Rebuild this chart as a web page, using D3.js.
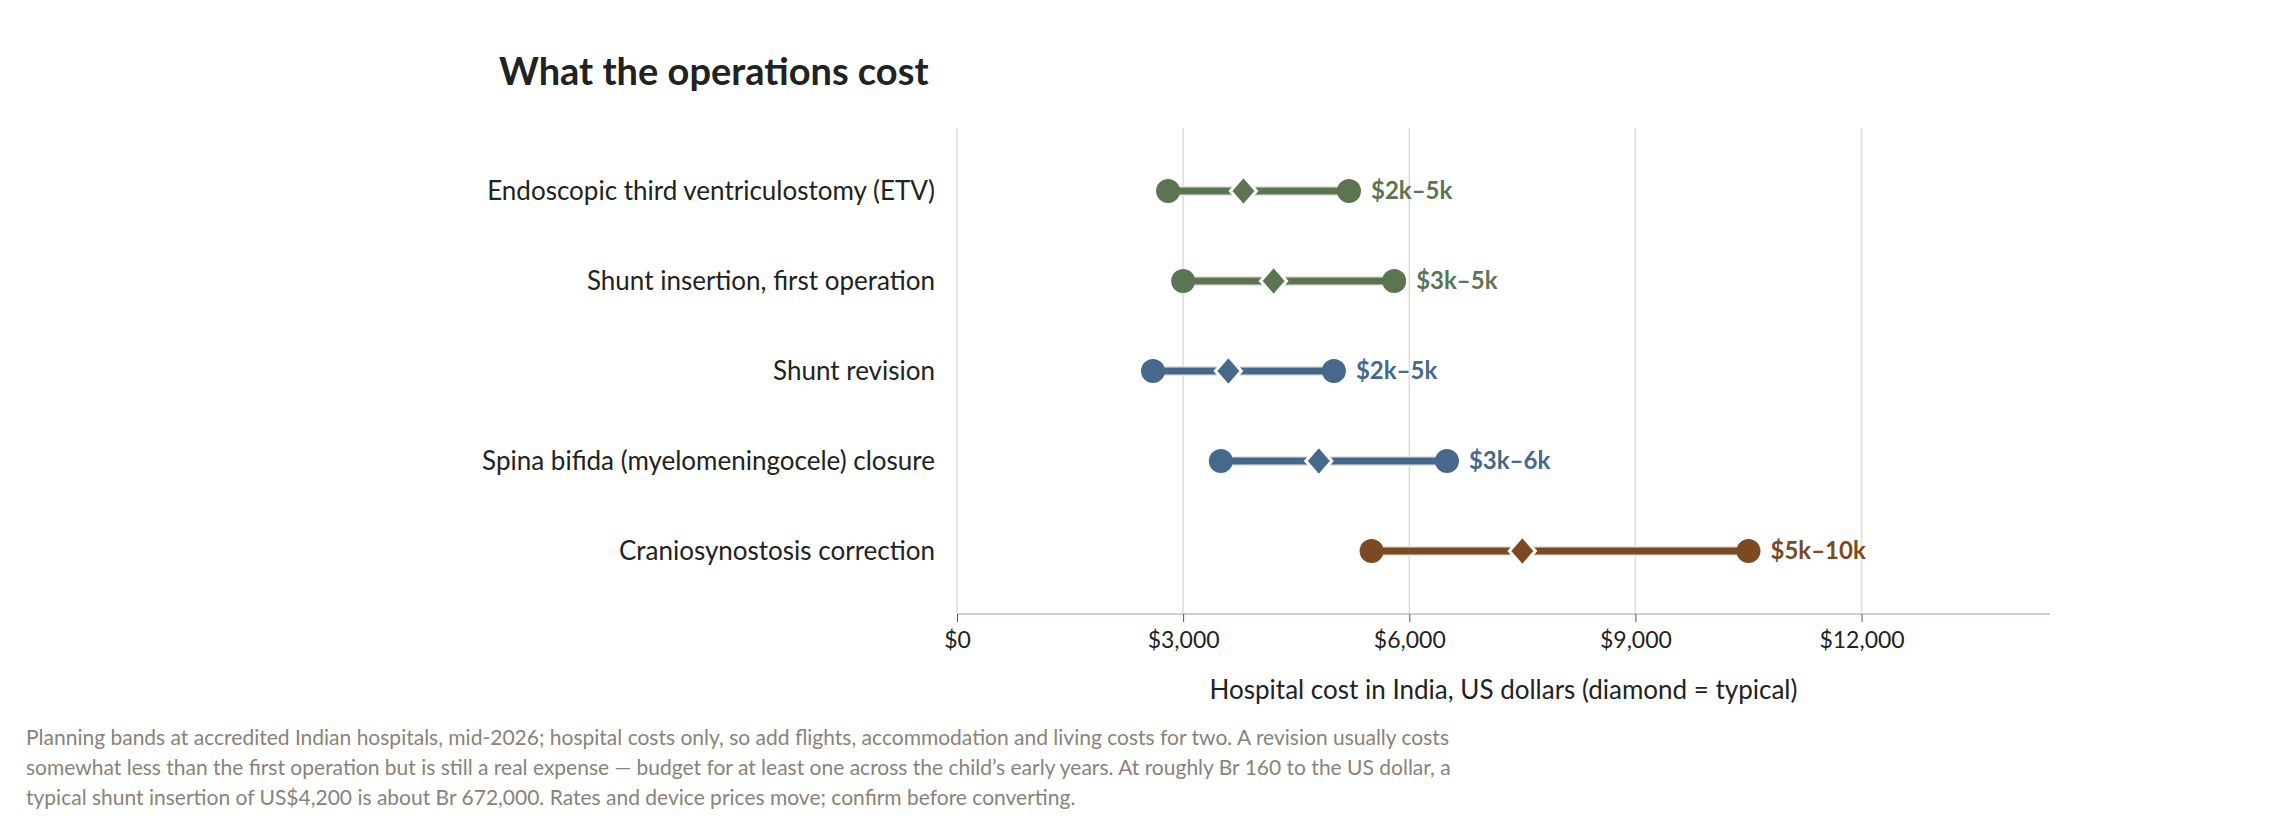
<!DOCTYPE html>
<html><head><meta charset="utf-8">
<script src="https://cdn.jsdelivr.net/npm/d3@7"></script>
<style>body{margin:0;background:#fff;font-family:Lato,sans-serif}</style>
</head><body>
<script>
// data
var categories = ["Endoscopic third ventriculostomy (ETV)", "Shunt insertion, first operation", "Shunt revision", "Spina bifida (myelomeningocele) closure", "Craniosynostosis correction"];
var lows = [2800, 3000, 2600, 3500, 5500];
var typicals = [3800, 4200, 3600, 4800, 7500];
var highs = [5200, 5800, 5000, 6500, 10500];
var rangeLabels = ["$2k–5k", "$3k–5k", "$2k–5k", "$3k–6k", "$5k–10k"];
var colors = ["#5b7553", "#5b7553", "#46688c", "#46688c", "#7b4a22"];
var tickValues = [0, 3000, 6000, 9000, 12000];

var W = 2280, H = 840;
var plotLeft = 957, plotRight = 2050, plotTop = 128, plotBottom = 614;

var svg = d3.select("body").append("svg").attr("width", W).attr("height", H);

var x = d3.scaleLinear().domain([0, 14500]).range([plotLeft, plotRight]);
var y = d3.scalePoint().domain(categories).range([plotTop, plotBottom]).padding(0.7);

// gridlines
svg.selectAll("line.grid").data(tickValues).enter().append("line")
    .attr("x1", function (d) { return x(d); }).attr("x2", function (d) { return x(d); })
    .attr("y1", plotTop).attr("y2", plotBottom)
    .attr("stroke", "#e0ddd5").attr("stroke-width", 1.5);

// x axis
var ax = svg.append("g").attr("transform", "translate(0," + plotBottom + ")")
    .call(d3.axisBottom(x).tickValues(tickValues).tickSize(8).tickPadding(10)
        .tickFormat(function (d) { return "$" + d3.format(",")(d); }));
ax.select(".domain").attr("stroke", "#d3cec4").attr("stroke-width", 2).attr("d", "M" + plotLeft + ",0H" + plotRight);
ax.selectAll(".tick line").attr("stroke", "#555");
ax.selectAll("text").attr("font-family", "Lato").attr("font-size", 23).attr("fill", "#222");

svg.append("text").attr("x", (plotLeft + plotRight) / 2).attr("y", 699).attr("text-anchor", "middle")
    .attr("font-size", 26).attr("fill", "#222").text("Hospital cost in India, US dollars (diamond = typical)");

// category labels
svg.selectAll("text.cat").data(categories).enter().append("text")
    .attr("x", 935).attr("y", function (d) { return y(d); }).attr("dy", "0.35em")
    .attr("text-anchor", "end").attr("font-size", 26).attr("fill", "#222")
    .text(function (d) { return d; });

var rows = categories.map(function (c, i) { return i; });

// range lines
svg.selectAll("line.halo").data(rows).enter().append("line")
    .attr("x1", function (i) { return x(lows[i]); }).attr("x2", function (i) { return x(highs[i]); })
    .attr("y1", function (i) { return y(categories[i]); }).attr("y2", function (i) { return y(categories[i]); })
    .attr("stroke", "#e8e4dc").attr("stroke-width", 10);
svg.selectAll("line.rng").data(rows).enter().append("line")
    .attr("x1", function (i) { return x(lows[i]); }).attr("x2", function (i) { return x(highs[i]); })
    .attr("y1", function (i) { return y(categories[i]); }).attr("y2", function (i) { return y(categories[i]); })
    .attr("stroke", function (i) { return colors[i]; }).attr("stroke-width", 7);

// end dots
[lows, highs].forEach(function (arr) {
    svg.selectAll(null).data(rows).enter().append("circle")
        .attr("cx", function (i) { return x(arr[i]); })
        .attr("cy", function (i) { return y(categories[i]); })
        .attr("r", 12).attr("fill", function (i) { return colors[i]; });
});

// typical diamonds
svg.selectAll("path.dia").data(rows).enter().append("path")
    .attr("d", "M0,-15L13,0L0,15L-13,0Z")
    .attr("transform", function (i) { return "translate(" + x(typicals[i]) + "," + y(categories[i]) + ")"; })
    .attr("fill", function (i) { return colors[i]; })
    .attr("stroke", "#fff").attr("stroke-width", 3);

// range labels
svg.selectAll("text.rl").data(rows).enter().append("text")
    .attr("x", function (i) { return x(highs[i]) + 22; })
    .attr("y", function (i) { return y(categories[i]); }).attr("dy", "0.35em")
    .attr("font-size", 24).attr("font-weight", "bold")
    .attr("fill", function (i) { return colors[i]; })
    .text(function (i) { return rangeLabels[i]; });

// title
svg.append("text").attr("x", 499).attr("y", 85).attr("font-size", 38).attr("font-weight", "bold")
    .attr("fill", "#222").text("What the operations cost");

// note
var note = [
    "Planning bands at accredited Indian hospitals, mid-2026; hospital costs only, so add flights, accommodation and living costs for two. A revision usually costs",
    "somewhat less than the first operation but is still a real expense — budget for at least one across the child’s early years. At roughly Br 160 to the US dollar, a",
    "typical shunt insertion of US$4,200 is about Br 672,000. Rates and device prices move; confirm before converting."
];
svg.selectAll("text.note").data(note).enter().append("text")
    .attr("x", 26).attr("y", function (d, i) { return 745 + i * 30; })
    .attr("font-size", 21).attr("fill", "#8a8278")
    .text(function (d) { return d; });
</script>
</body></html>
